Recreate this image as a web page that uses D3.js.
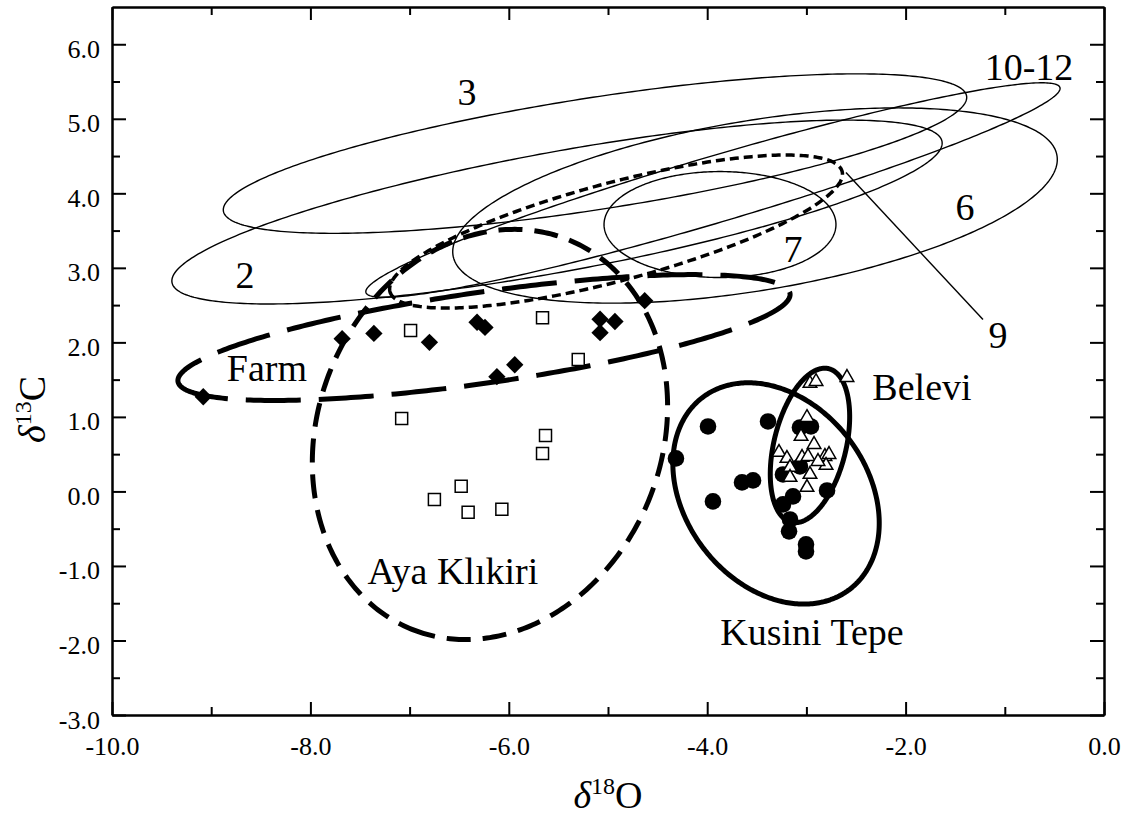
<!DOCTYPE html>
<html>
<head>
<meta charset="utf-8">
<script src="https://cdn.jsdelivr.net/npm/d3@7"></script>
<style>
  html, body { margin: 0; padding: 0; background: #fff; }
  svg { display: block; }
  text { font-family: "Liberation Serif", "Times New Roman", serif; fill: #000; }
</style>
</head>
<body>
<svg id="chart" width="1128" height="820"></svg>
<script>
// ---------- data ----------
const xMajorTicks = [-10, -8, -6, -4, -2, 0];
const xTickLabels = ["-10.0", "-8.0", "-6.0", "-4.0", "-2.0", "0.0"];
const xMinorTicks = [-9, -7, -5, -3, -1];
const yMajorTicks = [-3, -2, -1, 0, 1, 2, 3, 4, 5, 6];
const yTickLabels = ["-3.0", "-2.0", "-1.0", "0.0", "1.0", "2.0", "3.0", "4.0", "5.0", "6.0"];
const yMinorTicks = [-2.5, -1.5, -0.5, 0.5, 1.5, 2.5, 3.5, 4.5, 5.5];

// Farm (filled diamonds)
const farmPoints = [
  [-9.08, 1.27], [-7.68, 2.05], [-7.36, 2.12], [-6.80, 2.00], [-6.32, 2.27], [-6.24, 2.20],
  [-6.12, 1.54], [-5.94, 1.70], [-5.08, 2.31], [-4.93, 2.28], [-5.08, 2.13], [-4.63, 2.56]
];
// Aya Klıkiri (open squares)
const ayaPoints = [
  [-6.99, 2.16], [-5.66, 2.33], [-5.30, 1.77], [-7.08, 0.98], [-5.63, 0.75],
  [-5.66, 0.51], [-6.48, 0.07], [-6.75, -0.11], [-6.41, -0.28], [-6.07, -0.24]
];
// Kusini Tepe (filled circles)
const kusiniPoints = [
  [-4.315, 0.443], [-3.992, 0.872], [-3.387, 0.939], [-3.649, 0.121], [-3.538, 0.148],
  [-3.942, -0.134], [-3.065, 0.858], [-2.954, 0.872], [-3.236, 0.228], [-3.065, 0.335],
  [-3.135, -0.067], [-3.236, -0.174], [-3.165, -0.376], [-3.175, -0.536], [-3.004, -0.711],
  [-3.004, -0.805], [-2.792, 0.013]
];
// Belevi (open triangles)
const beleviPoints = [
  [-2.964, 1.449], [-2.903, 1.475], [-2.591, 1.529], [-2.994, 0.992], [-3.054, 0.738],
  [-2.923, 0.630], [-3.276, 0.523], [-3.196, 0.443], [-3.044, 0.456], [-2.984, 0.469],
  [-2.813, 0.469], [-2.772, 0.496], [-2.802, 0.349], [-2.883, 0.402], [-3.165, 0.322],
  [-3.165, 0.188], [-2.964, 0.228], [-2.994, 0.054]
];

// Ellipses: centre, semi-axis vector U, conjugate semi-axis vector V (data units)
const ellipseNames   = ["2", "3", "6", "7", "9", "10-12", "Farm", "Aya", "Kusini", "Belevi"];
const ellipseCenters = [[-5.514, 3.749], [-5.131, 4.533], [-3.518, 3.836], [-3.871, 3.581], [-4.919, 3.487],
                        [-3.942, 4.044], [-6.25, 2.065], [-6.19, 0.7645], [-3.306, -0.027], [-2.964, 0.617]];
const ellipseU       = [[3.881, 0.947], [3.746, 0.771], [3.044, 0.671], [1.169, 0], [2.279, 0.807],
                        [3.498, 1.375], [3.085, 0.590], [0.786, 2.615], [0.744, -1.285], [0.1885, 1.030]];
const ellipseV       = [[0.109, -0.791], [0.086, -0.742], [0.140, -1.125], [0, 0.711], [0.127, -0.635],
                        [0.094, -0.4245], [0.065, -0.604], [1.609, -0.857], [-0.727, -0.744], [0.353, -0.114]];

// Text labels (baseline, centred) in data units
const labelTexts = ["3", "10-12", "6", "7", "9", "2", "Farm", "Aya Klıkiri", "Kusini Tepe", "Belevi"];
const labelPos   = [[-6.421, 5.19], [-0.756, 5.526], [-1.401, 3.648], [-3.135, 3.085], [-1.069, 1.931],
                    [-8.659, 2.736], [-8.438, 1.475], [-6.563, -1.247], [-2.944, -2.065], [-1.835, 1.22]];
// Leader line for label "9"
const leader9 = [[-2.601, 4.279], [-1.22, 2.306]];

// ---------- styles ----------
const ellipseStyle = {
  "2":      { w: 1.4, dash: null },
  "3":      { w: 1.4, dash: null },
  "6":      { w: 1.4, dash: null },
  "7":      { w: 1.4, dash: null },
  "10-12":  { w: 1.4, dash: null },
  "9":      { w: 3.5, dash: "9,5" },
  "Farm":   { w: 5,   dash: "55,18" },
  "Aya":    { w: 5,   dash: "24,12" },
  "Kusini": { w: 5,   dash: null },
  "Belevi": { w: 5,   dash: null }
};

// ---------- layout ----------
const svg = d3.select("#chart");
const x = d3.scaleLinear().domain([-10, 0]).range([112, 1104]);
const y = d3.scaleLinear().domain([-3, 6.5]).range([715, 7]);

// ellipses
const line = d3.line().x(d => x(d[0])).y(d => y(d[1])).curve(d3.curveLinearClosed);
const N = 360;
ellipseNames.forEach((name, i) => {
  const c = ellipseCenters[i], U = ellipseU[i], V = ellipseV[i];
  const pts = d3.range(N).map(k => {
    const t = Math.PI - 2 * Math.PI * k / N;
    return [c[0] + U[0] * Math.cos(t) + V[0] * Math.sin(t),
            c[1] + U[1] * Math.cos(t) + V[1] * Math.sin(t)];
  });
  const st = ellipseStyle[name];
  svg.append("path")
    .attr("d", line(pts))
    .attr("fill", "none")
    .attr("stroke", "#000")
    .attr("stroke-width", st.w)
    .attr("stroke-dasharray", st.dash)
    .attr("stroke-linejoin", "round");
});

// leader line
svg.append("line")
  .attr("x1", x(leader9[0][0])).attr("y1", y(leader9[0][1]))
  .attr("x2", x(leader9[1][0])).attr("y2", y(leader9[1][1]))
  .attr("stroke", "#000").attr("stroke-width", 1.4);

// points
svg.append("g").selectAll("path").data(farmPoints).join("path")
  .attr("d", d3.symbol(d3.symbolSquare, 150)())
  .attr("transform", d => `translate(${x(d[0])},${y(d[1])}) rotate(45)`)
  .attr("fill", "#000");

svg.append("g").selectAll("path").data(ayaPoints).join("path")
  .attr("d", d3.symbol(d3.symbolSquare, 144)())
  .attr("transform", d => `translate(${x(d[0])},${y(d[1])})`)
  .attr("fill", "#fff").attr("stroke", "#000").attr("stroke-width", 1.5);

svg.append("g").selectAll("circle").data(kusiniPoints).join("circle")
  .attr("cx", d => x(d[0])).attr("cy", d => y(d[1])).attr("r", 8.3)
  .attr("fill", "#000");

svg.append("g").selectAll("path").data(beleviPoints).join("path")
  .attr("d", d3.symbol(d3.symbolTriangle, 80)())
  .attr("transform", d => `translate(${x(d[0])},${y(d[1])})`)
  .attr("fill", "#fff").attr("stroke", "#000").attr("stroke-width", 1.5);

// labels
svg.append("g").selectAll("text").data(labelTexts).join("text")
  .attr("x", (d, i) => x(labelPos[i][0]))
  .attr("y", (d, i) => y(labelPos[i][1]))
  .attr("text-anchor", "middle")
  .attr("font-size", 38)
  .text(d => d);

// ---------- axes ----------
const fmtX = v => xTickLabels[xMajorTicks.indexOf(v)];
const fmtY = v => yTickLabels[yMajorTicks.indexOf(v)];

function styleAxis(g) {
  g.attr("font-family", null).attr("font-size", null);
  g.selectAll("path.domain").attr("stroke", "#000").attr("stroke-width", 2);
  g.selectAll(".tick line").attr("stroke", "#000").attr("stroke-width", 2);
  g.selectAll(".tick text").attr("font-size", 26).attr("fill", "#000");
}

// bottom
svg.append("g").attr("transform", `translate(0,${y(-3)})`)
  .call(d3.axisBottom(x).tickValues(xMajorTicks).tickFormat(fmtX).tickSizeInner(-13).tickSizeOuter(0).tickPadding(22))
  .call(styleAxis);
svg.append("g").attr("transform", `translate(0,${y(-3)})`)
  .call(d3.axisBottom(x).tickValues(xMinorTicks).tickFormat("").tickSizeInner(-8).tickSizeOuter(0))
  .call(styleAxis);
// top
svg.append("g").attr("transform", `translate(0,${y(6.5)})`)
  .call(d3.axisTop(x).tickValues(xMajorTicks).tickFormat("").tickSizeInner(-13).tickSizeOuter(0))
  .call(styleAxis);
svg.append("g").attr("transform", `translate(0,${y(6.5)})`)
  .call(d3.axisTop(x).tickValues(xMinorTicks).tickFormat("").tickSizeInner(-8).tickSizeOuter(0))
  .call(styleAxis);
// left
svg.append("g").attr("transform", `translate(${x(-10)},0)`)
  .call(d3.axisLeft(y).tickValues(yMajorTicks).tickFormat(fmtY).tickSizeInner(-14).tickSizeOuter(0).tickPadding(12))
  .call(styleAxis)
  .call(g => g.selectAll(".tick text").attr("dy", "0.5em"));
svg.append("g").attr("transform", `translate(${x(-10)},0)`)
  .call(d3.axisLeft(y).tickValues(yMinorTicks).tickFormat("").tickSizeInner(-8).tickSizeOuter(0))
  .call(styleAxis);
// right
svg.append("g").attr("transform", `translate(${x(0)},0)`)
  .call(d3.axisRight(y).tickValues(yMajorTicks).tickFormat("").tickSizeInner(-14).tickSizeOuter(0))
  .call(styleAxis);
svg.append("g").attr("transform", `translate(${x(0)},0)`)
  .call(d3.axisRight(y).tickValues(yMinorTicks).tickFormat("").tickSizeInner(-8).tickSizeOuter(0))
  .call(styleAxis);

// axis titles
const xt = svg.append("text")
  .attr("x", (x(-10) + x(0)) / 2).attr("y", 808)
  .attr("text-anchor", "middle").attr("font-size", 38);
xt.append("tspan").attr("font-style", "italic").text("δ");
xt.append("tspan").attr("font-size", 24).attr("dy", -14).text("18");
xt.append("tspan").attr("dy", 14).text("O");

const yt = svg.append("text")
  .attr("transform", `translate(45,${y(1.1)}) rotate(-90)`)
  .attr("text-anchor", "middle").attr("font-size", 38);
yt.append("tspan").attr("font-style", "italic").text("δ");
yt.append("tspan").attr("font-size", 24).attr("dy", -14).text("13");
yt.append("tspan").attr("dy", 14).text("C");
</script>
</body>
</html>
